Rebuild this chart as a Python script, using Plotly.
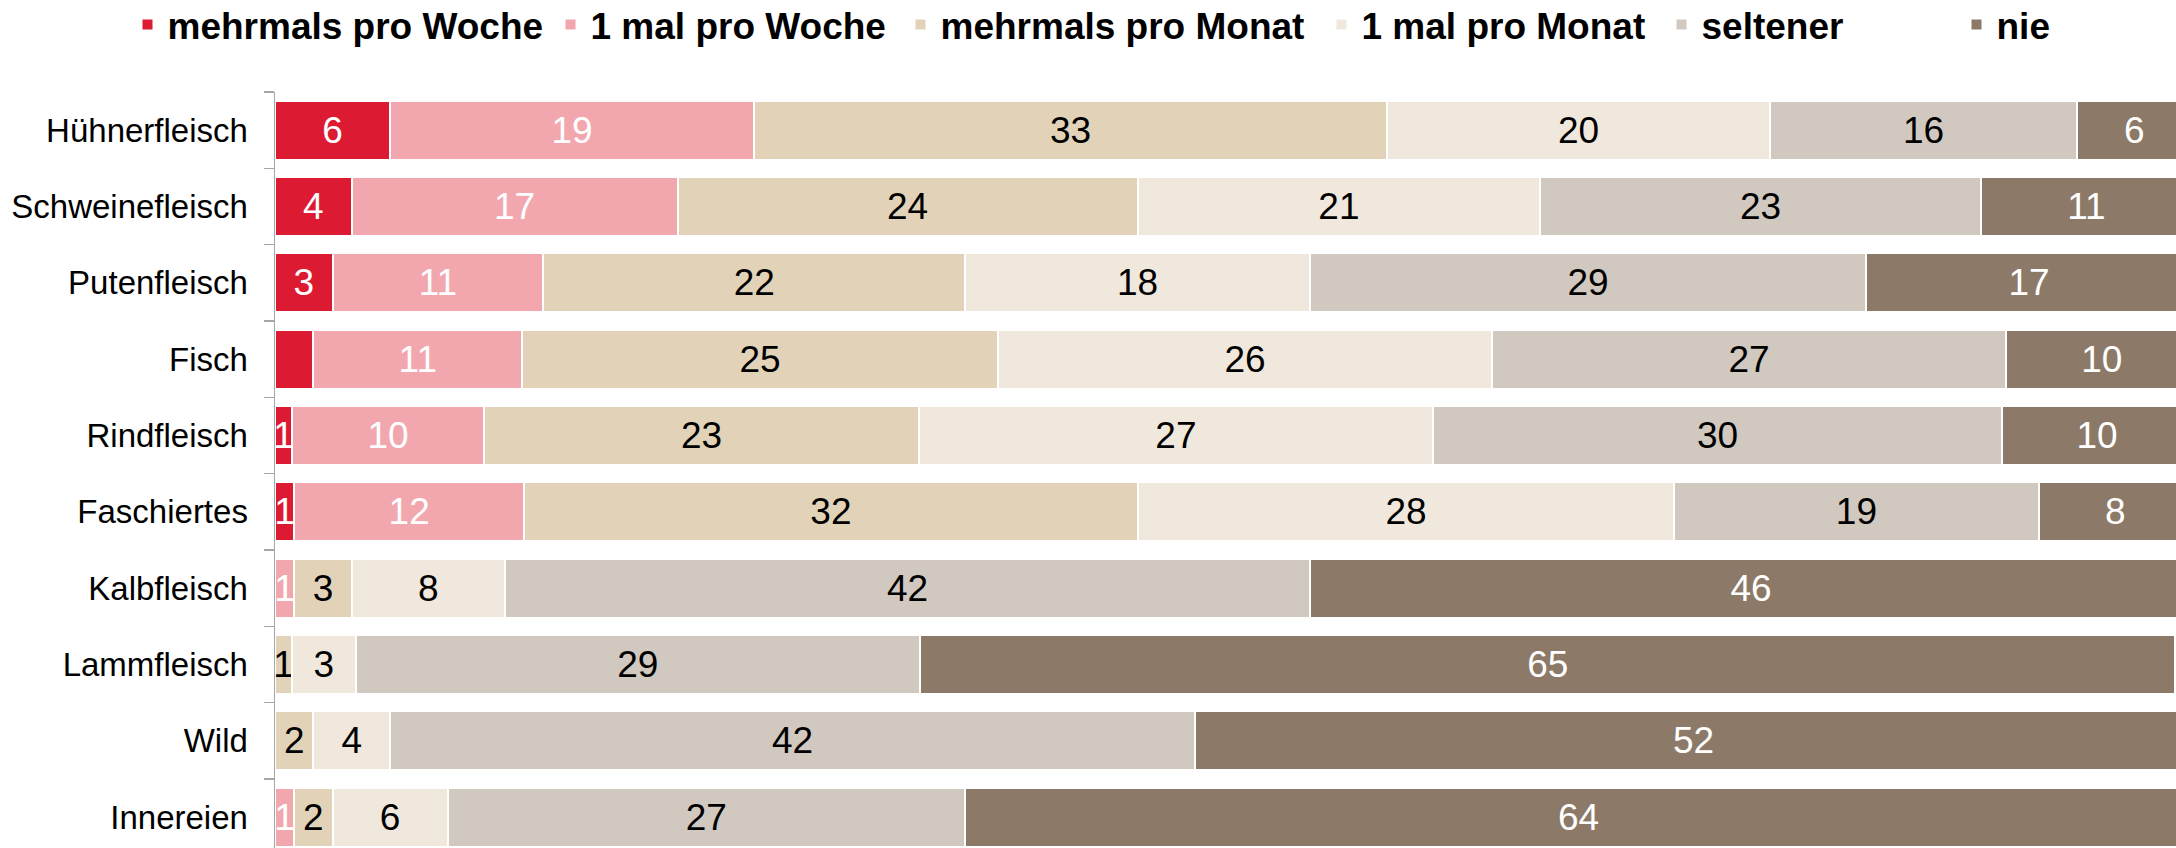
import plotly.graph_objects as go

categories = ["Hühnerfleisch", "Schweinefleisch", "Putenfleisch", "Fisch", "Rindfleisch",
              "Faschiertes", "Kalbfleisch", "Lammfleisch", "Wild", "Innereien"]

series_names = ["mehrmals pro Woche", "1 mal pro Woche", "mehrmals pro Monat",
                "1 mal pro Monat", "seltener", "nie"]

# shares in percent (labels are rounded)
mehrmals_woche = [6, 4, 3, 2, 0.9, 1, 0, 0, 0, 0]
einmal_woche = [19, 17, 11, 10.9, 10, 12, 1, 0, 0, 1]
mehrmals_monat = [33, 24, 22, 24.8, 22.7, 32, 3, 0.9, 2, 2]
einmal_monat = [20, 21, 18, 25.8, 26.8, 28, 8, 3.3, 4, 6]
seltener = [16, 23, 29, 26.8, 29.7, 19, 42, 29.45, 42, 27]
nie = [6, 11, 17, 10, 9.9, 8, 46, 65.49, 52, 64]

# the small Fisch value is not labelled in the source
hide_label = {(0, "Fisch")}

colors = ["#DC1B33", "#F2A7AE", "#E2D3B8", "#F0E8DC", "#D1C8BF", "#8C7967"]
text_colors = ["white", "white", "black", "black", "black", "white"]

all_values = [mehrmals_woche, einmal_woche, mehrmals_monat, einmal_monat, seltener, nie]

legend_centers_px = [147.5, 570.5, 920.5, 1341.5, 1681.5, 1976.5]

W, H = 2176, 848
ML, MT = 275, 92
FONT = "Liberation Sans, Arial, sans-serif"

fig = go.Figure()
for i, (name, vals) in enumerate(zip(series_names, all_values)):
    labels = []
    for cat, v in zip(categories, vals):
        if v == 0 or (i, cat) in hide_label:
            labels.append("")
        else:
            labels.append(f"{v:.0f}")
    legend_id = "legend" if i == 0 else f"legend{i+1}"
    fig.add_trace(go.Bar(
        name=name,
        y=categories,
        x=vals,
        orientation="h",
        marker=dict(color=colors[i], line=dict(color="white", width=2)),
        text=labels,
        textposition="inside",
        insidetextanchor="middle",
        textangle=0,
        constraintext="none",
        textfont=dict(family=FONT, size=37, color=text_colors[i]),
        legend=legend_id,
        showlegend=True,
        hoverinfo="skip",
    ))

layout_legends = {}
pw = W - ML
ph = H - MT
for i, c in enumerate(legend_centers_px):
    legend_id = "legend" if i == 0 else f"legend{i+1}"
    layout_legends[legend_id] = dict(
        xref="paper", yref="paper",
        x=(c - 20 - ML) / pw, xanchor="left",
        y=(H - 25) / ph, yanchor="middle",
        orientation="h",
        bgcolor="rgba(0,0,0,0)",
        borderwidth=0,
        font=dict(family=FONT, size=37, color="black", weight="bold"),
    )

fig.update_layout(
    width=W, height=H,
    showlegend=True,
    barmode="stack",
    bargap=0.227,
    plot_bgcolor="white",
    paper_bgcolor="white",
    margin=dict(l=ML, r=0, t=MT, b=0, pad=0, autoexpand=False),
    xaxis=dict(range=[0, 99.17], visible=False, showgrid=False, zeroline=False, fixedrange=True),
    yaxis=dict(
        type="category",
        categoryorder="array",
        categoryarray=categories,
        range=[9.403, -0.5],
        automargin=False,
        showline=True, linecolor="#A6A6A6", linewidth=1.5,
        ticks="outside", tickson="boundaries", ticklen=10, tickcolor="#A6A6A6", tickwidth=1.5,
        ticklabelstandoff=19,
        tickfont=dict(family=FONT, size=33, color="black"),
        showgrid=False, zeroline=False,
        fixedrange=True,
    ),
    **layout_legends,
)

fig.write_html(
    "out.html",
    config={"displayModeBar": False, "staticPlot": True},
    post_script="document.body.style.margin='0';document.body.style.overflow='hidden';",
)
